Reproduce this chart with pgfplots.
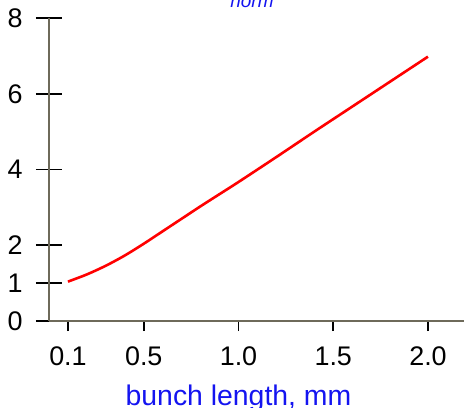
\documentclass[border=0pt]{standalone}
\usepackage{fontspec}
\setmainfont{Liberation Sans}
\usepackage{pgfplots}
\pgfplotsset{compat=1.18}
\definecolor{axiscol}{RGB}{110,106,90}
\definecolor{labblue}{RGB}{20,20,240}

\begin{document}
\begin{tikzpicture}
\begin{axis}[
  at={(0,0)}, anchor=south west,
  scale only axis, width=415bp, height=303bp,
  xmin=0, xmax=2.19, ymin=0, ymax=8,
  axis lines*=left,
  axis line style={axiscol, line width=1.6bp},
  xtick={0.1,0.5,1.0,1.5,2.0},
  xticklabels={0.1,0.5,1.0,1.5,2.0},
  ytick={0,1,2,4,6,8},
  major tick length=26bp,
  xtick align=outside, ytick align=center,
  x tick style={/pgfplots/major tick length=10bp},
  tick style={black, line width=1.6bp},
  /pgf/number format/assume math mode=true,
  tick label style={font=\fontsize{27}{32}\selectfont},
  yticklabel style={xshift=-10bp},
  xticklabel style={yshift=4bp},
  xlabel={bunch length, mm},
  xlabel style={at={(axis description cs:0.4566,0)}, anchor=base, yshift=-84bp,
    font=\fontsize{28.5}{32}\selectfont, text=labblue},
]
\addplot[red, line width=2.6bp, smooth] coordinates {
  (0.1,1.04) (0.2,1.23) (0.3,1.46) (0.4,1.73) (0.5,2.04)
  (0.6,2.37) (0.7,2.70) (0.8,3.03) (0.9,3.35) (1.0,3.67)
  (1.2,4.33) (1.4,5.00) (1.6,5.66) (1.8,6.32) (2.0,6.98)
};
\end{axis}
\node[anchor=base, text=labblue, font=\fontsize{19}{22}\selectfont\itshape] at (203bp,313bp) {norm};
\pgfresetboundingbox
\useasboundingbox (-49bp,-87bp) rectangle (415bp,321bp);
\end{tikzpicture}
\end{document}
